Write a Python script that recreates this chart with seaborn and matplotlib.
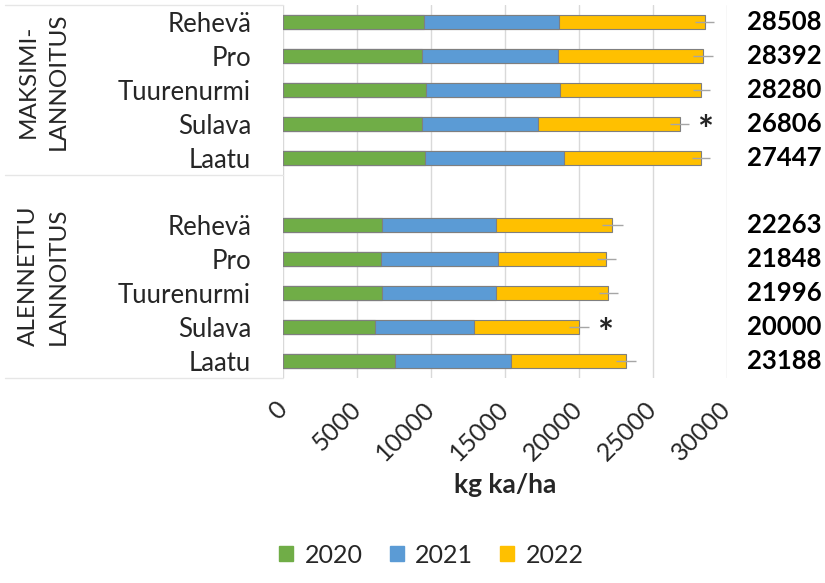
import pandas as pd
import seaborn as sns
from matplotlib import pyplot as plt
from matplotlib import transforms

sns.set_theme(style="white")
plt.rcParams["font.family"] = ["Lato", "DejaVu Sans"]

varieties = ["Rehevä", "Pro", "Tuurenurmi", "Sulava", "Laatu"]
groups = ["MAKSIMI-\nLANNOITUS", "ALENNETTU\nLANNOITUS"]
years = ["2020", "2021", "2022"]
colors = ["#70AD47", "#5B9BD5", "#FFC000"]

# kg ka/ha per year
max_2020 = [9510, 9430, 9650, 9430, 9600]
max_2021 = [9140, 9150, 9090, 7820, 9410]
max_2022 = [9858, 9812, 9540, 9556, 9240]
max_err = [650, 650, 600, 650, 600]
max_totals = ["28508", "28392", "28280", "26806", "27447"]

alen_2020 = [6720, 6610, 6700, 6230, 7560]
alen_2021 = [7700, 7920, 7720, 6660, 7870]
alen_2022 = [7843, 7318, 7576, 7110, 7758]
alen_err = [700, 650, 650, 700, 700]
alen_totals = ["22263", "21848", "21996", "20000", "23188"]

marked = ["Sulava"]

rows = []
for key, a, b, c, e, t in [
    ("max", max_2020, max_2021, max_2022, max_err, max_totals),
    ("alen", alen_2020, alen_2021, alen_2022, alen_err, alen_totals),
]:
    for i, v in enumerate(varieties):
        rows.append({"row": f"{key}|{v}", "variety": v, "y2020": a[i],
                     "y2021": b[i], "y2022": c[i], "err": e[i], "label": t[i]})
df = pd.DataFrame(rows)
df["c1"] = df.y2020
df["c2"] = df.y2020 + df.y2021
df["c3"] = df.c2 + df.y2022

order = [f"max|{v}" for v in varieties] + ["gap"] + [f"alen|{v}" for v in varieties]

fig = plt.figure(figsize=(8.25, 5.83), dpi=100)
ax = fig.add_axes([0.343, 0.352, 0.538, 0.639])

for col, color in zip(["c3", "c2", "c1"], colors[::-1]):
    sns.barplot(data=df, y="row", x=col, order=order, color=color, orient="h",
                saturation=1, width=0.41, edgecolor="#7F7F7F", linewidth=0.8,
                ax=ax, zorder=3)

pos = [order.index(r) for r in df.row]
ax.errorbar(df.c3, pos, xerr=df.err, fmt="none", ecolor="#A6A6A6",
            elinewidth=1, capsize=0, zorder=4)

for p, r in zip(pos, df.itertuples()):
    if r.variety in marked:
        ax.text(r.c3 + 1200, p + 0.25, "*", fontsize=27, fontweight="bold",
                ha="left", va="center")

trans = transforms.blended_transform_factory(fig.transFigure, ax.transData)
for p, r in zip(pos, df.itertuples()):
    ax.text(0.996, p, r.label, transform=trans, ha="right", va="center",
            fontsize=18.5, fontweight="bold", color="black")

ax.set_ylim(len(order) - 0.5, -0.5)
ax.set_xlim(0, 30000)
ax.set_xticks(range(0, 30001, 5000))
ax.xaxis.grid(True, color="#D9D9D9", linewidth=1)
ax.set_axisbelow(True)
for s in ax.spines.values():
    s.set_visible(False)
ax.tick_params(axis="both", length=0)
ax.tick_params(axis="x", labelsize=18, pad=14)
ax.tick_params(axis="y", labelsize=18.5, pad=23)
shift = transforms.ScaledTranslation(-0.08, 0, fig.dpi_scale_trans)
for lab in ax.get_xticklabels():
    lab.set_rotation(45)
    lab.set_ha("right")
    lab.set_rotation_mode("anchor")
    lab.set_transform(lab.get_transform() + shift)
ax.set_yticks(range(len(order)))
ax.set_yticklabels([o.split("|")[1] if "|" in o else "" for o in order])
ax.set_ylabel("")
ax.set_xlabel("kg ka/ha", fontsize=19, fontweight="bold", labelpad=6)

# group separators and group titles
ltrans = transforms.blended_transform_factory(ax.transAxes, ax.transData)
for yv in [-0.5, 4.5, 10.5]:
    ax.plot([-0.626, 0], [yv, yv], color="#E6E6E6", lw=1,
            transform=ltrans, clip_on=False)
for gname, yc in zip(groups, [1.75, 7.5]):
    ax.text(-0.54, yc, gname, transform=ltrans, rotation=90, ha="center",
            va="center", fontsize=17.5, linespacing=1.5, multialignment="center")

handles = [plt.Rectangle((0, 0), 1, 1, color=c) for c in colors]
fig.legend(handles, years, loc="center", bbox_to_anchor=(0.523, 0.048), ncol=3,
           frameon=False, fontsize=18, handlelength=0.55, handleheight=0.55,
           columnspacing=1.1, handletextpad=0.45)

fig.savefig("out.png", dpi=100)
